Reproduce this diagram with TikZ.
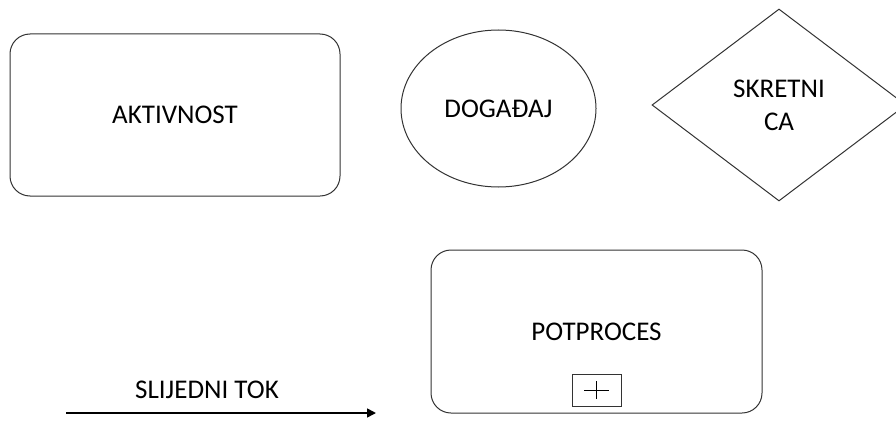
\documentclass[tikz,border=0pt]{standalone}
\usepackage{fontspec}
\setmainfont{Carlito}
\usetikzlibrary{shapes.geometric,arrows.meta}
\begin{document}
\begin{tikzpicture}[x=1pt,y=-1pt,
  every node/.style={font=\fontsize{27}{33}\selectfont, text=black},
  shapeline/.style={draw=black!80, line width=1pt},
  roundbox/.style={shapeline, rounded corners=20pt, inner sep=0pt},
  flowarrow/.style={draw=black, line width=1.6pt, -{Triangle[length=9pt,width=9pt]}}]
\clip (0,0) rectangle (896,420);
\fill[white] (0,0) rectangle (896,420);
\node[roundbox, minimum width=330pt, minimum height=162pt] (akt) at (175,115) {AKTIVNOST};
\node[shapeline, ellipse, minimum width=195pt, minimum height=157pt, inner sep=0pt] (dog) at (498.5,108.5) {DOGAĐAJ};
\node[shapeline, diamond, minimum width=254pt, minimum height=192pt, inner sep=0pt, align=center] (skr) at (779,105) {SKRETNI\\CA};
\node[roundbox, minimum width=331pt, minimum height=163pt] (pot) at (596.5,331.5) {POTPROCES};
\node[shapeline, line width=0.8pt, minimum width=49pt, minimum height=32pt, inner sep=0pt] (plus) at (596.5,390) {};
\draw[black, line width=0.8pt] ([xshift=-12.5pt]plus.center) -- ([xshift=12.5pt]plus.center);
\draw[black, line width=0.8pt] ([yshift=-9pt]plus.center) -- ([yshift=9pt]plus.center);
\node (sl) at (207,390) {SLIJEDNI TOK};
\coordinate (a1) at (66,413);
\coordinate (a2) at (376,413);
\draw[flowarrow] (a1) -- (a2);
\end{tikzpicture}
\end{document}
